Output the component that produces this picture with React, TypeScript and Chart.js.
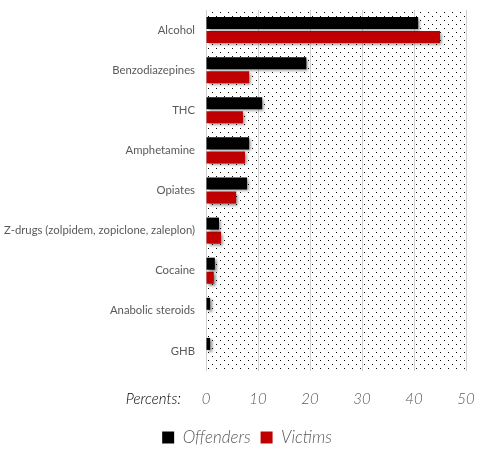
import { useEffect, useRef } from 'react'
import { Chart, registerables } from 'chart.js'

Chart.register(...registerables)

const categories = [
  'Alcohol',
  'Benzodiazepines',
  'THC',
  'Amphetamine',
  'Opiates',
  'Z-drugs (zolpidem, zopiclone, zaleplon)',
  'Cocaine',
  'Anabolic steroids',
  'GHB',
]
const offenders = [40.8, 19.3, 10.8, 8.3, 7.9, 2.5, 1.7, 0.8, 0.8]
const victims = [45.0, 8.3, 7.1, 7.5, 5.8, 2.9, 1.5, 0, 0]
const xTicks = [0, 10, 20, 30, 40, 50]

const SCRIPT = 'italic 300 15px Lato, "DejaVu Sans", sans-serif'
const GREY = '#595959'

function dotPattern(ctx: CanvasRenderingContext2D) {
  const tile = document.createElement('canvas')
  tile.width = 8
  tile.height = 8
  const t = tile.getContext('2d')!
  t.fillStyle = '#ffffff'
  t.fillRect(0, 0, 8, 8)
  t.fillStyle = '#000000'
  t.fillRect(0, 0, 1, 1)
  t.fillRect(4, 4, 1, 1)
  return ctx.createPattern(tile, 'repeat')!
}

const backdrop = {
  id: 'backdrop',
  beforeDraw(chart: Chart) {
    const { ctx, chartArea: a } = chart
    ctx.save()
    ctx.fillStyle = dotPattern(ctx)
    ctx.fillRect(a.left, a.top, a.right - a.left, a.bottom - a.top)
    ctx.restore()
  },
}

const shadow = {
  id: 'shadow',
  beforeDatasetsDraw(chart: Chart) {
    const ctx = chart.ctx
    ctx.save()
    ctx.shadowColor = 'rgba(0,0,0,0.45)'
    ctx.shadowOffsetX = 2
    ctx.shadowOffsetY = 2
    ctx.shadowBlur = 3
  },
  afterDatasetsDraw(chart: Chart) {
    chart.ctx.restore()
  },
}

// the legend in the original sits a bit right of the canvas centre
const legendNudge = {
  id: 'legendNudge',
  afterLayout(chart: Chart) {
    const lg: any = chart.legend
    if (!lg) return
    lg.left += 14
    lg.right += 14
  },
}

const percentsLabel = {
  id: 'percentsLabel',
  afterDraw(chart: Chart) {
    const { ctx, chartArea: a } = chart
    ctx.save()
    ctx.font = SCRIPT
    ctx.fillStyle = '#000000'
    ctx.textAlign = 'right'
    ctx.textBaseline = 'middle'
    ctx.fillText('Percents:', a.left - 25, a.bottom + 28)
    ctx.restore()
  },
}

export default function App() {
  const canvasRef = useRef<HTMLCanvasElement>(null)

  useEffect(() => {
    if (!canvasRef.current) return
    const chart = new Chart(canvasRef.current, {
      type: 'bar',
      data: {
        labels: categories,
        datasets: [
          { label: 'Offenders', data: offenders, backgroundColor: '#000000' },
          { label: 'Victims', data: victims, backgroundColor: '#c00000' },
        ],
      },
      options: {
        indexAxis: 'y',
        animation: false,
        responsive: true,
        maintainAspectRatio: false,
        events: [],
        datasets: { bar: { categoryPercentage: 0.7, barPercentage: 0.857 } },
        layout: { padding: { top: 10, right: 19, left: 0, bottom: 0 } },
        plugins: {
          tooltip: { enabled: false },
          legend: {
            position: 'bottom',
            labels: {
              boxWidth: 12,
              boxHeight: 12,
              padding: 10,
              color: GREY,
              font: { family: 'Lato', size: 17, style: 'italic', weight: 300 },
            },
          },
        },
        scales: {
          x: {
            min: 0,
            max: 50,
            afterBuildTicks: (s: any) => {
              s.ticks = xTicks.map((v) => ({ value: v }))
            },
            afterFit: (s: any) => {
              s.height = 48
              s.paddingLeft = 0
              s.paddingRight = 0
            },
            grid: { color: '#d0d0d0', drawTicks: false },
            border: { display: false },
            ticks: {
              padding: 19,
              color: GREY,
              font: { family: 'Lato', size: 15, style: 'italic', weight: 300 },
            },
          },
          y: {
            afterFit: (s: any) => {
              s.width = 206
              s.paddingTop = 0
              s.paddingBottom = 0
            },
            grid: { display: false, drawTicks: false },
            border: { display: false },
            ticks: {
              padding: 11,
              color: GREY,
              font: { family: 'Lato', size: 11.3 },
            },
          },
        },
      },
      plugins: [backdrop, shadow, legendNudge, percentsLabel],
    })
    return () => chart.destroy()
  }, [])

  return (
    <div style={{ position: 'fixed', left: 0, top: 0, width: 485, height: 456 }}>
      <canvas ref={canvasRef} />
    </div>
  )
}
